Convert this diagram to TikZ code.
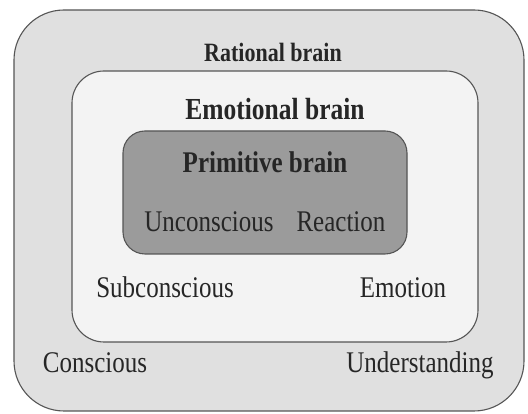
\documentclass[tikz,border=0pt]{standalone}
\usepackage{fontspec}
\setmainfont{Liberation Serif}
\usepackage{tikz}
\usetikzlibrary{calc}

\definecolor{ratgray}{HTML}{E0E0E0}
\definecolor{emogray}{HTML}{F3F3F3}
\definecolor{primgray}{HTML}{9B9B9B}
\definecolor{edgegray}{HTML}{555555}

\newcommand{\tallbox}[1]{\scalebox{1}[1.2]{#1}}

\tikzset{
	layer/.style={draw=edgegray,line width=1.1pt},
	word/.style={anchor=base,inner sep=0pt,text=black!85,font=\fontsize{25}{28}\selectfont},
	title/.style={word,font=\fontsize{25}{28}\selectfont\bfseries}
}

\begin{document}
\begin{tikzpicture}[x=1pt,y=1pt]
				\useasboundingbox (0,0) rectangle (528,414);
				
				\draw[layer,fill=ratgray,rounded corners=50pt] (14,404) rectangle (524,3);
				\draw[layer,fill=emogray,rounded corners=32pt] (72,343) rectangle (478,72);
				\draw[layer,fill=primgray,rounded corners=22pt] (123,283) rectangle (407,160);
				
				\node[title,font=\fontsize{22}{26}\selectfont\bfseries] (rational) at (273,352) {\tallbox{Rational brain}};
				\node[title,font=\fontsize{25.5}{28}\selectfont\bfseries] (emotional) at (275,294) {\tallbox{Emotional brain}};
				\node[title] (primitive) at (265,241) {\tallbox{Primitive brain}};
				
				\node[word] (unconscious) at (209,182) {\tallbox{Unconscious}};
				\node[word] (reaction) at (341,182) {\tallbox{Reaction}};
				\node[word] (subconscious) at (165,116) {\tallbox{Subconscious}};
				\node[word] (emotion) at (403,116) {\tallbox{Emotion}};
				\node[word] (conscious) at (95,41) {\tallbox{Conscious}};
				\node[word] (understanding) at (420,41) {\tallbox{Understanding}};
			\end{tikzpicture}
\end{document}
